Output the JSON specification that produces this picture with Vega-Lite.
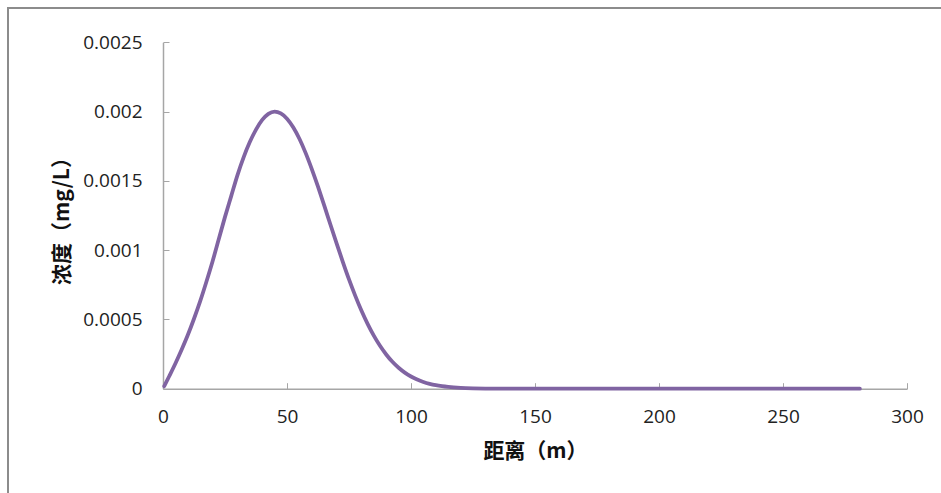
{
  "$schema": "https://vega.github.io/schema/vega-lite/v6.json",
  "autosize": "none",
  "padding": {"left": 8, "top": 8, "right": 0, "bottom": 0},
  "width": 940,
  "height": 490,
  "background": "white",
  "config": {
    "view": {"stroke": "#8c8c8c", "strokeWidth": 2},
    "axis": {
      "grid": false,
      "domainColor": "#a6a6a6",
      "domainWidth": 1.5,
      "tickColor": "#a6a6a6",
      "tickWidth": 1,
      "tickSize": -6,
      "labelFlush": false,
      "labelOverlap": false,
      "labelFont": "Open Sans",
      "labelFontSize": 19,
      "labelColor": "#222222",
      "titleFont": "Noto Sans CJK SC",
      "titleFontSize": 21,
      "titleFontWeight": "bold",
      "titleColor": "#111111"
    }
  },
  "data": {
    "values": [
      {"d": 0.5, "c": 0.000018},
      {"d": 2.5, "c": 0.00009},
      {"d": 5, "c": 0.000182},
      {"d": 7.5, "c": 0.000281},
      {"d": 10, "c": 0.000387},
      {"d": 12.5, "c": 0.000505},
      {"d": 15, "c": 0.000632},
      {"d": 17.5, "c": 0.000772},
      {"d": 20, "c": 0.00092},
      {"d": 22.5, "c": 0.00108},
      {"d": 25, "c": 0.00124},
      {"d": 27.5, "c": 0.00139},
      {"d": 30, "c": 0.00154},
      {"d": 32.5, "c": 0.00167},
      {"d": 35, "c": 0.00178},
      {"d": 37.5, "c": 0.00187},
      {"d": 40, "c": 0.00194},
      {"d": 42.5, "c": 0.001984},
      {"d": 45, "c": 0.002},
      {"d": 47.5, "c": 0.001987},
      {"d": 50, "c": 0.001949},
      {"d": 52.5, "c": 0.001887},
      {"d": 55, "c": 0.001804},
      {"d": 57.5, "c": 0.001702},
      {"d": 60, "c": 0.001585},
      {"d": 62.5, "c": 0.001458},
      {"d": 65, "c": 0.001323},
      {"d": 67.5, "c": 0.001185},
      {"d": 70, "c": 0.001049},
      {"d": 72.5, "c": 0.000916},
      {"d": 75, "c": 0.000789},
      {"d": 77.5, "c": 0.000672},
      {"d": 80, "c": 0.000564},
      {"d": 82.5, "c": 0.000468},
      {"d": 85, "c": 0.000383},
      {"d": 87.5, "c": 0.00031},
      {"d": 90, "c": 0.000247},
      {"d": 92.5, "c": 0.000194},
      {"d": 95, "c": 0.000151},
      {"d": 97.5, "c": 0.000116},
      {"d": 100, "c": 0.0000879},
      {"d": 102.5, "c": 0.0000658},
      {"d": 105, "c": 0.0000485},
      {"d": 107.5, "c": 0.0000354},
      {"d": 110, "c": 0.0000254},
      {"d": 112.5, "c": 0.0000181},
      {"d": 115, "c": 0.0000127},
      {"d": 120, "c": 0.000006},
      {"d": 125, "c": 0.0000027},
      {"d": 130, "c": 0.0000011},
      {"d": 135, "c": 0.0000005},
      {"d": 140, "c": 0.0000002},
      {"d": 150, "c": 0},
      {"d": 170, "c": 0},
      {"d": 190, "c": 0},
      {"d": 210, "c": 0},
      {"d": 230, "c": 0},
      {"d": 250, "c": 0},
      {"d": 270, "c": 0},
      {"d": 281, "c": 0}
    ]
  },
  "mark": {"type": "line", "color": "#8064A2", "strokeWidth": 3.8, "interpolate": "monotone", "strokeCap": "round"},
  "encoding": {
    "x": {
      "field": "d",
      "type": "quantitative",
      "title": "距离（m）",
      "scale": {"domain": [0, 300], "range": [155, 899], "nice": false, "zero": false},
      "axis": {"values": [0, 50, 100, 150, 200, 250, 300], "offset": -109.3, "labelPadding": 25, "titlePadding": 14, "format": "d"}
    },
    "y": {
      "field": "c",
      "type": "quantitative",
      "title": "浓度（mg/L）",
      "scale": {"domain": [0, 0.0025], "range": [380.7, 34.3], "nice": false, "zero": false},
      "axis": {"values": [0, 0.0005, 0.001, 0.0015, 0.002, 0.0025], "offset": -155, "labelPadding": 27, "titlePadding": 10, "labelExpr": "datum.value === 0 ? '0' : format(datum.value, '.4~f')"}
    }
  }
}
